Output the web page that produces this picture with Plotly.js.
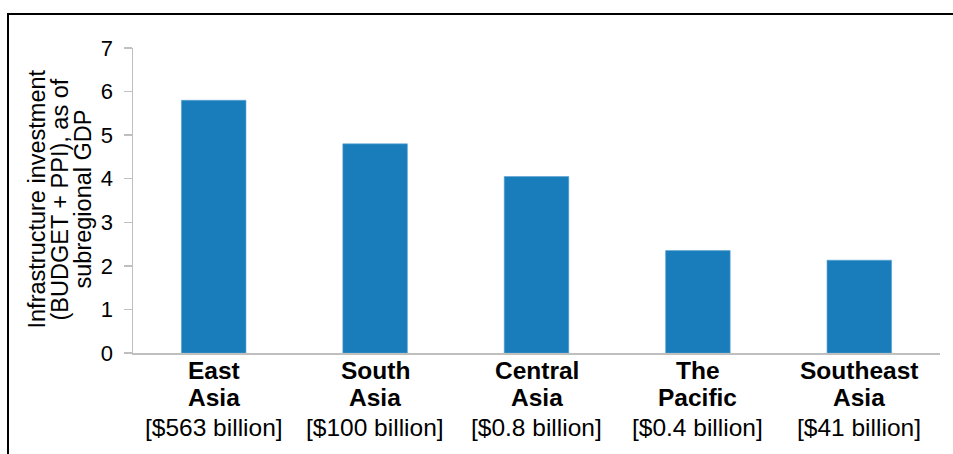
<!DOCTYPE html>
<html>
<head>
<meta charset="utf-8">
<script src="https://cdn.plot.ly/plotly-3.0.1.min.js"></script>
<style>
html,body{margin:0;padding:0;background:#fff;}
#wrap{position:relative;width:953px;height:454px;}
#chart{position:absolute;left:0;top:0;width:953px;height:454px;}
#frame{position:absolute;left:7px;top:13px;width:946px;height:441px;border-top:2px solid #000;border-left:2px solid #000;pointer-events:none;box-sizing:border-box;}
</style>
</head>
<body>
<div id="wrap"><div id="chart"></div><div id="frame"></div></div>
<script>
const regionLine1 = ["East", "South", "Central", "The", "Southeast"];
const regionLine2 = ["Asia", "Asia", "Asia", "Pacific", "Asia"];
const totals = ["[$563 billion]", "[$100 billion]", "[$0.8 billion]", "[$0.4 billion]", "[$41 billion]"];
const values = [5.8, 4.8, 4.05, 2.35, 2.13];
const yTicks = [0, 1, 2, 3, 4, 5, 6, 7];
const yTitleLines = ["Infrastructure investment", "(BUDGET + PPI), as of", "subregional GDP"];

const categories = regionLine1.map((r, i) => r + " " + regionLine2[i]);

const trace = {
  type: "bar",
  x: categories,
  y: values,
  marker: {color: "#187dba", line: {color: "#5aa3d4", width: 0.6}},
  hoverinfo: "skip"
};

const annotations = [];
const LBL = {family: "Liberation Sans, Arial, sans-serif", color: "#000", size: 24.5};
categories.forEach((c, i) => {
  [["<b>" + regionLine1[i] + "</b>", -17], ["<b>" + regionLine2[i] + "</b>", -44], [totals[i], -74]].forEach(([t, s]) => {
    annotations.push({x: c, xref: "x", y: 0, yref: "paper", yanchor: "middle", yshift: s,
      text: t, showarrow: false, font: LBL});
  });
});
yTitleLines.forEach((t, i) => {
  annotations.push({x: 0, xref: "paper", xanchor: "center", xshift: -97 + i * 23,
    y: 0.5, yref: "paper", yanchor: "middle", yshift: 1,
    text: t, textangle: -90, showarrow: false,
    font: {family: "Liberation Sans, Arial, sans-serif", color: "#000", size: 23.5}});
});

const layout = {
  width: 953, height: 454,
  margin: {l: 133, r: 13, t: 48, b: 101, pad: 0},
  paper_bgcolor: "#fff", plot_bgcolor: "#fff",
  bargap: 0.6,
  showlegend: false,
  font: {family: "Liberation Sans, Arial, sans-serif", color: "#000"},
  xaxis: {
    type: "category",
    showline: true, linecolor: "#bfbfbf", linewidth: 1.5,
    ticks: "", showgrid: false, zeroline: false,
    showticklabels: false,
    fixedrange: true
  },
  yaxis: {
    range: [0, 7],
    tickvals: yTicks,
    showline: true, linecolor: "#bfbfbf", linewidth: 1.5,
    ticks: "outside", ticklen: 8, tickcolor: "#bfbfbf", tickwidth: 1.5,
    showgrid: false, zeroline: false,
    tickfont: {size: 22, color: "#000"},
    ticklabelstandoff: 6,
    fixedrange: true
  },
  annotations: annotations
};

Plotly.newPlot("chart", [trace], layout, {displayModeBar: false, staticPlot: true});
</script>
</body>
</html>
